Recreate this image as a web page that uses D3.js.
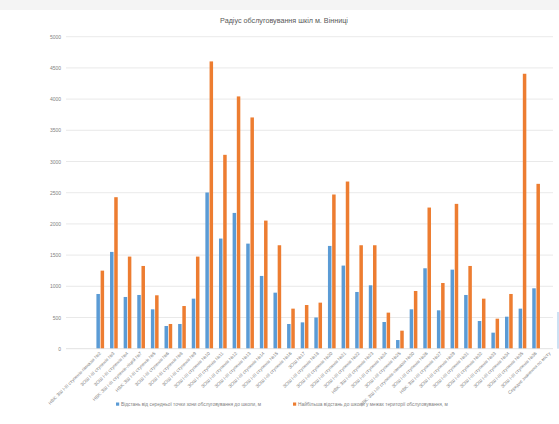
<!DOCTYPE html>
<html>
<head>
<meta charset="utf-8">
<script src="https://cdn.jsdelivr.net/npm/d3@7"></script>
<style>
  html, body { margin: 0; padding: 0; background: #fff; }
  svg { display: block; font-family: "Liberation Sans", Arial, sans-serif; }
</style>
</head>
<body>
<svg id="chart" width="559" height="424"></svg>
<script>
// School catchment data for Vinnytsia (metres)
const schools = [
  "НВК: ЗШ І-ІІІ ступенів-гімназія №2",
  "ЗОШ І-ІІІ ступенів №3",
  "ЗОШ І-ІІІ ступенів №4",
  "НВК: ЗШ І-ІІІ ступенів-ліцей №7",
  "НВК: ЗШ І-ІІІ ступенів №5",
  "ЗОШ І-ІІІ ступенів №6",
  "ЗОШ І-ІІІ ступенів №8",
  "ЗОШ І-ІІІ ступенів №9",
  "ЗОШ І-ІІІ ступенів №10",
  "ЗОШ І-ІІІ ступенів №11",
  "ЗОШ І-ІІІ ступенів №12",
  "ЗОШ І-ІІІ ступенів №13",
  "ЗОШ І-ІІІ ступенів №14",
  "ЗОШ І-ІІІ ступенів №15",
  "ЗОШ І-ІІІ ступенів №16",
  "ЗОШ №17",
  "ЗОШ І-ІІІ ступенів №18",
  "ЗОШ І-ІІІ ступенів №20",
  "ЗОШ І-ІІІ ступенів №21",
  "ЗОШ І-ІІІ ступенів №22",
  "НВК: ЗШ І-ІІІ ступенів №23",
  "ЗОШ І-ІІІ ступенів №24",
  "ЗОШ І-ІІІ ступенів №25",
  "НВК: ЗШ І-ІІІ ступенів-гімназія №30",
  "ЗОШ І-ІІІ ступенів №26",
  "НВК: ЗШ І-ІІІ ступенів №27",
  "ЗОШ І-ІІІ ступенів №29",
  "ЗОШ І-ІІІ ступенів №31",
  "ЗОШ І-ІІІ ступенів №32",
  "ЗОШ І-ІІІ ступенів №33",
  "ЗОШ І-ІІІ ступенів №34",
  "ЗОШ І-ІІІ ступенів №35",
  "ЗОШ І-ІІІ ступенів №36",
  "Середнє значення по місту"
];

const meanDistance = [
  877, 1551, 829, 861, 631, 364, 396, 802, 2503, 1765, 2176, 1684, 1166, 898,
  396, 422, 500, 1647, 1332, 909, 1016, 428, 139, 631, 1289, 615, 1267, 861,
  444, 257, 513, 642, 968, null
];

const maxDistance = [
  1251, 2428, 1476, 1326, 856, 396, 684, 1476, 4604, 3107, 4043, 3706, 2053, 1658,
  642, 700, 738, 2471, 2679, 1658, 1658, 578, 289, 925, 2262, 1053, 2321, 1326,
  802, 481, 877, 4406, 2642, null
];

const yTicks = [0, 500, 1000, 1500, 2000, 2500, 3000, 3500, 4000, 4500, 5000];

const seriesNames = [
  "Відстань від середньої точки зони обслуговування до школи, м",
  "Найбільша відстань до школи у межах території обслуговування, м"
];
const colors = ["#5b9bd5", "#ed7d31"];
const titleText = "Радіус обслуговування шкіл м. Вінниці";

const svg = d3.select("#chart");

// chart area with a pale strip along the top edge
svg.append("rect").attr("x", 0).attr("y", 0).attr("width", 559).attr("height", 424).attr("fill", "#fff");
svg.append("rect").attr("x", 0).attr("y", 0).attr("width", 559).attr("height", 10).attr("fill", "#f4f4f4");

const plot = { left: 66, right: 553, top: 36.7, bottom: 348.7 };

const y = d3.scaleLinear().domain([0, 5000]).range([plot.bottom, plot.top]);
const x = d3.scaleBand().domain(schools).range([93.5, 93.5 + schools.length * 13.62]).paddingInner(0).paddingOuter(0);

// title
svg.append("text")
  .attr("x", 284).attr("y", 22.5)
  .attr("text-anchor", "middle")
  .attr("font-size", 7.2)
  .attr("fill", "#595959")
  .text(titleText);

// gridlines
svg.append("g").selectAll("line").data(yTicks.filter(d => d > 0)).join("line")
  .attr("x1", plot.left).attr("x2", plot.right)
  .attr("y1", d => y(d)).attr("y2", d => y(d))
  .attr("stroke", "#e3e3e3").attr("stroke-width", 0.8);

// y axis labels
const yAxis = d3.axisLeft(y).tickValues(yTicks).tickSize(0).tickPadding(5).tickFormat(d3.format("d"));
const gy = svg.append("g").attr("transform", `translate(${plot.left},0)`).call(yAxis);
gy.select(".domain").remove();
gy.selectAll("text").attr("font-size", 5).attr("fill", "#7f7f7f").attr("font-family", "Liberation Sans, Arial, sans-serif");

// bars
const barW = 3.5;
const groups = [meanDistance, maxDistance];
groups.forEach((vals, si) => {
  svg.append("g").selectAll("rect")
    .data(schools.map((s, i) => ({ s, v: vals[i] })).filter(d => d.v != null))
    .join("rect")
    .attr("x", d => x(d.s) + x.bandwidth() / 2 + (si === 0 ? -3.9 : 0.3))
    .attr("width", barW)
    .attr("y", d => y(d.v))
    .attr("height", d => y(0) - y(d.v))
    .attr("fill", colors[si]);
});

// category axis
svg.append("line")
  .attr("x1", plot.left).attr("x2", plot.right)
  .attr("y1", plot.bottom).attr("y2", plot.bottom)
  .attr("stroke", "#d9d9d9").attr("stroke-width", 0.8);

// thin selection edge on the right side of the chart
svg.append("line")
  .attr("x1", 558).attr("x2", 558)
  .attr("y1", 312).attr("y2", plot.bottom)
  .attr("stroke", "#9dc3e6").attr("stroke-width", 1);

svg.append("g").selectAll("text").data(schools).join("text")
  .attr("transform", d => `translate(${x(d) + x.bandwidth() / 2 + 1},${plot.bottom + 5}) rotate(-45)`)
  .attr("text-anchor", "end")
  .attr("font-size", 4.6)
  .attr("fill", "#7f7f7f")
  .text(d => d);

// legend
const legendX = [116, 293];
seriesNames.forEach((name, i) => {
  svg.append("rect")
    .attr("x", legendX[i]).attr("y", 402.5)
    .attr("width", 3.2).attr("height", 3.2)
    .attr("fill", colors[i]);
  svg.append("text")
    .attr("x", legendX[i] + 5).attr("y", 405.8)
    .attr("font-size", 4.8)
    .attr("fill", "#7f7f7f")
    .text(name);
});
</script>
</body>
</html>
